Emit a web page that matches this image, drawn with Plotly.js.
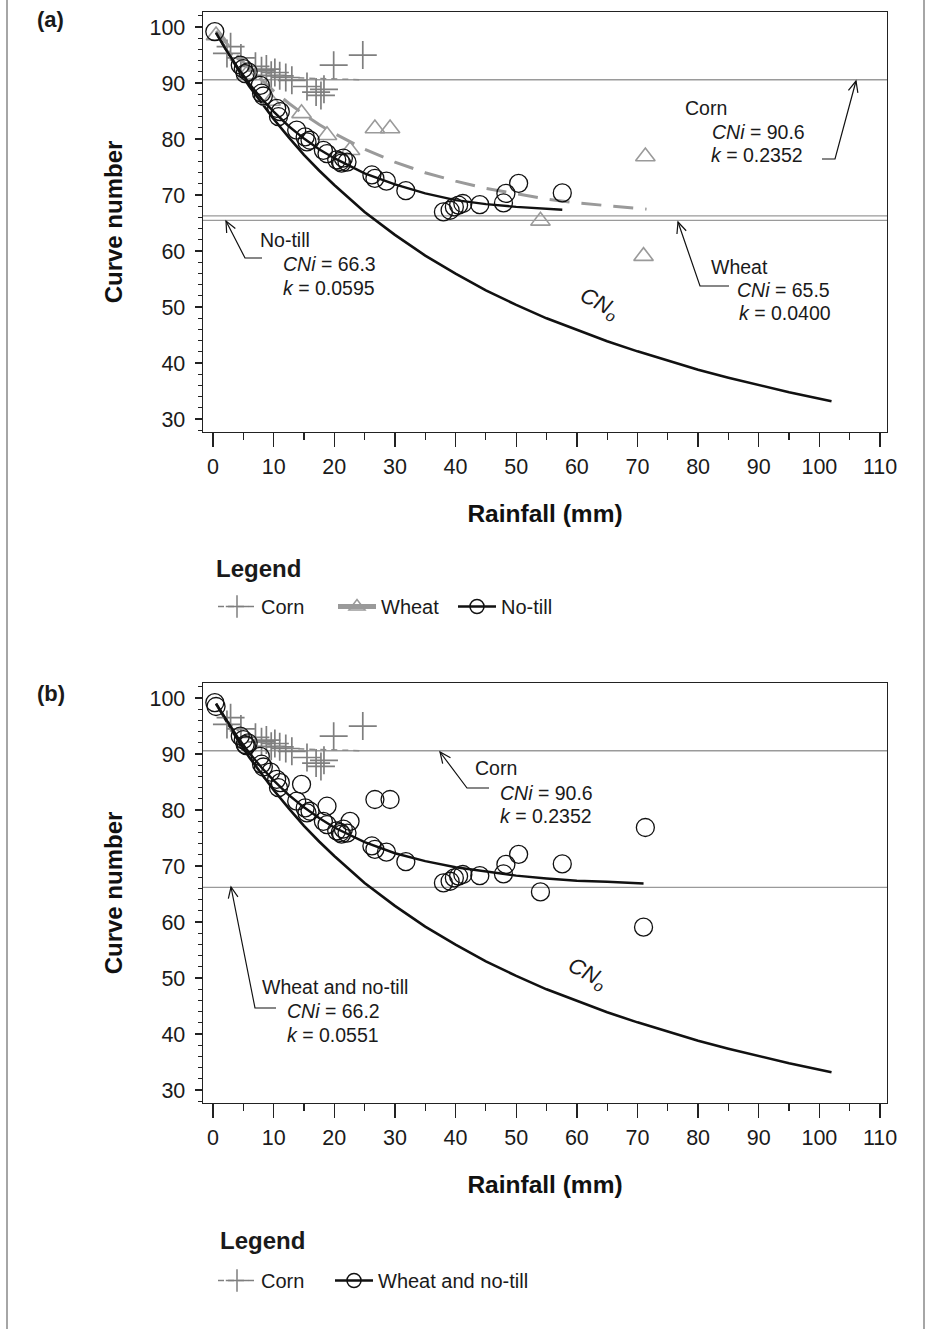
<!DOCTYPE html>
<html>
<head>
<meta charset="utf-8">
<script src="https://cdn.plot.ly/plotly-3.0.1.min.js"></script>
<style>html,body{margin:0;padding:0;background:#fff;}#chart{width:931px;height:1329px;}</style>
</head>
<body>
<div id="chart"></div>
<script>
// ---------------- DATA ----------------
// Corn observations (rainfall mm, curve number)
const cornP  = [2.3, 2.9, 4.6, 7.0, 8.0, 8.8, 9.6, 10.2, 11.0, 12.0, 13.0, 15.5, 17.0, 17.8, 18.3, 19.9, 24.7];
const cornCN = [95.3, 96.5, 94.5, 93.0, 92.2, 92.5, 91.4, 91.9, 91.3, 91.0, 90.5, 89.4, 88.4, 87.8, 88.9, 93.2, 95.0];
// Wheat observations
const wheatP  = [0.5, 5.5, 9.5, 14.6, 18.8, 22.6, 26.7, 29.2, 54.0, 71.0, 71.3];
const wheatCN = [98.5, 91.5, 86.8, 84.6, 80.7, 78.0, 81.9, 81.9, 65.4, 59.1, 76.9];
// No-till observations
const notillP  = [0.3, 4.5, 5.0, 5.3, 5.8, 7.8, 8.0, 8.3, 10.5, 10.8, 11.1, 13.8, 15.2, 15.5, 16.0, 18.2, 18.8, 20.4, 21.0, 21.2, 21.5, 22.1, 26.2, 26.7, 28.6, 31.8, 38.0, 39.1, 39.8, 40.5, 41.2, 44.0, 47.9, 48.3, 50.4, 57.6];
const notillCN = [99.2, 93.2, 92.6, 91.7, 92.0, 89.6, 88.2, 87.7, 85.5, 84.0, 84.9, 81.6, 80.4, 79.5, 79.8, 78.0, 77.4, 76.3, 76.0, 75.7, 76.6, 75.9, 73.6, 73.0, 72.5, 70.8, 67.0, 67.3, 67.9, 68.2, 68.5, 68.3, 68.6, 70.3, 72.1, 70.4];

// CNo curve
const cnoP  = [0.5, 2, 4, 6, 8, 10, 12.5, 15, 17.5, 20, 25, 30, 35, 40, 45, 50, 55, 60, 65, 70, 75, 80, 85, 90, 95, 102];
const cnoCN = [99.0, 96.2, 92.7, 89.4, 86.4, 83.6, 80.3, 77.2, 74.4, 71.8, 67.0, 62.9, 59.2, 56.0, 53.0, 50.4, 48.0, 45.9, 43.9, 42.1, 40.4, 38.8, 37.4, 36.1, 34.8, 33.2];

// Fitted curves
const cornFitP  = [0.5, 1, 2, 3, 4, 5, 6, 8, 10, 12.5, 15, 20, 24.7];
const cornFitCN = [99.0, 98.0, 96.5, 95.2, 94.3, 93.5, 92.9, 92.0, 91.5, 91.1, 90.9, 90.7, 90.6];
const wheatFitP  = [0.5, 2, 4, 6, 8, 10, 12.5, 15, 17.5, 20, 25, 30, 35, 40, 45, 50, 55, 60, 65, 71.5];
const wheatFitCN = [99.3, 97.4, 94.9, 92.6, 90.6, 88.6, 86.4, 84.4, 82.6, 81.0, 78.2, 75.9, 74.0, 72.5, 71.2, 70.2, 69.3, 68.6, 68.1, 67.5];
const notillFitP  = [0.5, 2, 4, 6, 8, 10, 12.5, 15, 17.5, 20, 25, 30, 35, 40, 45, 50, 57.6];
const notillFitCN = [99.0, 96.2, 92.9, 89.9, 87.2, 84.9, 82.3, 80.1, 78.2, 76.6, 73.9, 71.9, 70.3, 69.1, 68.4, 67.9, 67.4];
const combFitP  = [0.5, 2, 4, 6, 8, 10, 12.5, 15, 17.5, 20, 25, 30, 35, 40, 45, 50, 55, 60, 65, 71.0];
const combFitCN = [99.0, 96.4, 93.1, 90.2, 87.6, 85.3, 82.7, 80.5, 78.6, 76.9, 74.3, 72.3, 70.9, 69.8, 69.0, 68.3, 67.8, 67.4, 67.2, 66.9];

// Asymptotic CNi values
const cniCorn = 90.6, cniWheat = 65.5, cniNotill = 66.3, cniComb = 66.2;

// ---------------- LAYOUT HELPERS ----------------
const W = 931, H = 1329;
const PX = x => x / W;
const PY = y => 1 - y / H;
const FONT = 'Liberation Sans, Arial, sans-serif';
const XR = [-1.65, 111.15], YR = [27.7, 102.7];
const GRAY = '#9a9a9a';

function hline(yv, xa, ya) {
  return {type:'line', xref: xa + ' domain', yref: ya, x0:0, x1:1, y0:yv, y1:yv, line:{color:GRAY, width:1.3}, layer:'below'};
}
function leader(pts) { // pixel points -> paper path
  let d = 'M ' + PX(pts[0][0]) + ' ' + PY(pts[0][1]);
  for (let i = 1; i < pts.length; i++) d += ' L ' + PX(pts[i][0]) + ' ' + PY(pts[i][1]);
  return {type:'path', xref:'paper', yref:'paper', path:d, line:{color:'#111', width:1.2}};
}
function vhead(fx, fy, tx, ty) {
  const dx = fx - tx, dy = fy - ty, L = Math.hypot(dx, dy);
  const ux = dx / L, uy = dy / L, len = 12, a = 24 * Math.PI / 180;
  const r = (s) => [tx + len * (ux * Math.cos(s) - uy * Math.sin(s)), ty + len * (ux * Math.sin(s) + uy * Math.cos(s))];
  return leader([r(a), [tx, ty], r(-a)]);
}
function txt(s, x, y, size, extra) {
  return Object.assign({text:s, xref:'paper', yref:'paper', x:PX(x), y:PY(y), xanchor:'left', yanchor:'middle', showarrow:false, font:{family:FONT, size:size||19.5, color:'#1a1a1a'}}, extra||{});
}

// ---------------- TRACES ----------------
const traces = [];
function line(x, y, xa, ya, color, width, dash) {
  return {type:'scatter', mode:'lines', x:x, y:y, xaxis:xa, yaxis:ya, line:{color:color, width:width, dash:dash||'solid'}, showlegend:false, hoverinfo:'skip'};
}
function pts(x, y, xa, ya, symbol, size, color, lw) {
  return {type:'scatter', mode:'markers', x:x, y:y, xaxis:xa, yaxis:ya, marker:{symbol:symbol, size:size, color:color, line:{width:lw, color:color}}, showlegend:false, hoverinfo:'skip'};
}
// Panel (a)
traces.push(line(cnoP, cnoCN, 'x', 'y', '#111', 2.6));
traces.push(pts(cornP, cornCN, 'x', 'y', 'cross-thin-open', 20, '#7f7f7f', 1.7));
traces.push(line(cornFitP, cornFitCN, 'x', 'y', '#8a8a8a', 1.5, '6px,5px'));
traces.push(pts(wheatP, wheatCN, 'x', 'y', 'triangle-up-open', 17, GRAY, 1.6));
traces.push(line(wheatFitP, wheatFitCN, 'x', 'y', GRAY, 3, '20px,12px'));
traces.push(pts(notillP, notillCN, 'x', 'y', 'circle-open', 18, '#111', 1.3));
traces.push(line(notillFitP, notillFitCN, 'x', 'y', '#111', 2.4));
// Panel (b)
const combP = wheatP.concat(notillP), combCN = wheatCN.concat(notillCN);
traces.push(line(cnoP, cnoCN, 'x2', 'y2', '#111', 2.6));
traces.push(pts(cornP, cornCN, 'x2', 'y2', 'cross-thin-open', 20, '#7f7f7f', 1.7));
traces.push(line(cornFitP, cornFitCN, 'x2', 'y2', '#8a8a8a', 1.5, '6px,5px'));
traces.push(pts(combP, combCN, 'x2', 'y2', 'circle-open', 18, '#111', 1.3));
traces.push(line(combFitP, combFitCN, 'x2', 'y2', '#111', 2.4));

// Legend entries
function leg(name, legendId, xa, ya, color, width, dash, symbol, msize, mlw) {
  return {type:'scatter', mode:'lines+markers', x:[null], y:[null], xaxis:xa, yaxis:ya, name:name, legend:legendId,
    line:{color:color, width:width, dash:dash}, marker:{symbol:symbol, size:msize, color:color, line:{width:mlw, color:color}}, showlegend:true, hoverinfo:'skip'};
}
traces.push(leg('Corn', 'legend', 'x', 'y', '#7f7f7f', 1.5, '6px,4px', 'cross-thin-open', 16, 1.5));
traces.push(leg('Wheat', 'legend', 'x', 'y', GRAY, 5, 'solid', 'triangle-up-open', 14, 1.5));
traces.push(leg('No-till', 'legend', 'x', 'y', '#111', 2.4, 'solid', 'circle-open', 14, 1.5));
traces.push(leg('Corn', 'legend2', 'x2', 'y2', '#7f7f7f', 1.5, '6px,4px', 'cross-thin-open', 16, 1.5));
traces.push(leg('Wheat and no-till', 'legend3', 'x2', 'y2', '#111', 2.4, 'solid', 'circle-open', 14, 1.5));

// ---------------- AXES ----------------
function xax(anchor) {
  return {domain:[PX(203), PX(887)], range:XR, anchor:anchor, showline:true, mirror:true, linecolor:'#222', linewidth:1.4,
    ticks:'outside', ticklen:14, tickwidth:1.4, tickcolor:'#222', dtick:10, tick0:0, showgrid:false, zeroline:false,
    tickfont:{family:FONT, size:21.5, color:'#1a1a1a'}, ticklabelstandoff:1,
    minor:{dtick:5, tick0:0, ticks:'outside', ticklen:7, tickwidth:1.2, tickcolor:'#222', showgrid:false},
    title:{text:'<b>Rainfall (mm)</b>', font:{family:FONT, size:24.5, color:'#111'}, standoff:26}, fixedrange:true};
}
function yax(anchor, top, bottom) {
  return {domain:[PY(bottom), PY(top)], range:YR, anchor:anchor, showline:true, mirror:true, linecolor:'#222', linewidth:1.4,
    ticks:'outside', ticklen:7, tickwidth:1.4, tickcolor:'#222', dtick:10, tick0:0, showgrid:false, zeroline:false,
    tickfont:{family:FONT, size:21.5, color:'#1a1a1a'}, ticklabelstandoff:5,
    minor:{dtick:2, tick0:0, ticks:'outside', ticklen:4, tickwidth:1.1, tickcolor:'#222', showgrid:false},
    title:{text:'<b>Curve number</b>', font:{family:FONT, size:24, color:'#111'}, standoff:20}, fixedrange:true};
}

// ---------------- SHAPES & ANNOTATIONS ----------------
const shapes = [
  hline(cniCorn, 'x', 'y'), hline(cniNotill, 'x', 'y'), hline(cniWheat, 'x', 'y'),
  hline(cniCorn, 'x2', 'y2'), hline(cniComb, 'x2', 'y2'),
  // outer frame sides
  {type:'line', xref:'paper', yref:'paper', x0:PX(7), x1:PX(7), y0:0, y1:1, line:{color:'#888', width:1.5}},
  {type:'line', xref:'paper', yref:'paper', x0:PX(924), x1:PX(924), y0:0, y1:1, line:{color:'#888', width:1.5}},
  // leaders (a)
  leader([[822,159],[835,159],[856,81]]), vhead(835,159,856,81),
  leader([[262,258],[245,258],[226,221]]), vhead(245,258,226,221),
  leader([[729,286],[700,286],[678,222]]), vhead(700,286,678,222),
  // leaders (b)
  leader([[489,788],[467,788],[440,752]]), vhead(467,788,440,752),
  leader([[276,1008],[255,1008],[231,887]]), vhead(255,1008,231,887)
];

const annotations = [
  txt('<b>(a)</b>', 35, 20, 22),
  txt('<b>(b)</b>', 35, 693, 22),
  // (a)
  txt('Corn', 683, 108), txt('<i>CNi</i> = 90.6', 710, 132), txt('<i>k</i> = 0.2352', 709, 155),
  txt('No-till', 258, 240), txt('<i>CNi</i> = 66.3', 281, 264), txt('<i>k</i> = 0.0595', 281, 288),
  txt('Wheat', 709, 267), txt('<i>CNi</i> = 65.5', 735, 290), txt('<i>k</i> = 0.0400', 737, 313),
  txt('<i>CN<sub>o</sub></i>', 572, 304, 22, {textangle:28}),
  // (b)
  txt('Corn', 473, 768), txt('<i>CNi</i> = 90.6', 498, 793), txt('<i>k</i> = 0.2352', 498, 816),
  txt('Wheat and no-till', 260, 987), txt('<i>CNi</i> = 66.2', 285, 1011), txt('<i>k</i> = 0.0551', 285, 1035),
  txt('<i>CN<sub>o</sub></i>', 560, 974, 22, {textangle:28}),
  // legend headings
  txt('<b>Legend</b>', 214, 568, 24), txt('<b>Legend</b>', 218, 1240, 24)
];

function legendCfg(x, y, ew) {
  const c = {orientation:'h', x:PX(x), y:PY(y), xanchor:'left', yanchor:'top', bgcolor:'rgba(0,0,0,0)',
    font:{family:FONT, size:20, color:'#1a1a1a'}, itemwidth:38, traceorder:'normal', tracegroupgap:0};
  if (ew) c.entrywidth = ew;
  return c;
}

const layout = {
  width:W, height:H, margin:{l:0, r:0, t:0, b:0}, paper_bgcolor:'#fff', plot_bgcolor:'#fff',
  font:{family:FONT, color:'#1a1a1a'}, hovermode:false, showlegend:true,
  xaxis: xax('y'), yaxis: yax('x', 12, 432),
  xaxis2: xax('y2'), yaxis2: yax('x2', 683, 1103),
  legend: legendCfg(213, 587, 67), legend2: legendCfg(213, 1261), legend3: legendCfg(330, 1261),
  shapes: shapes, annotations: annotations
};

Plotly.newPlot('chart', traces, layout, {staticPlot:true, displayModeBar:false});
</script>
</body>
</html>
